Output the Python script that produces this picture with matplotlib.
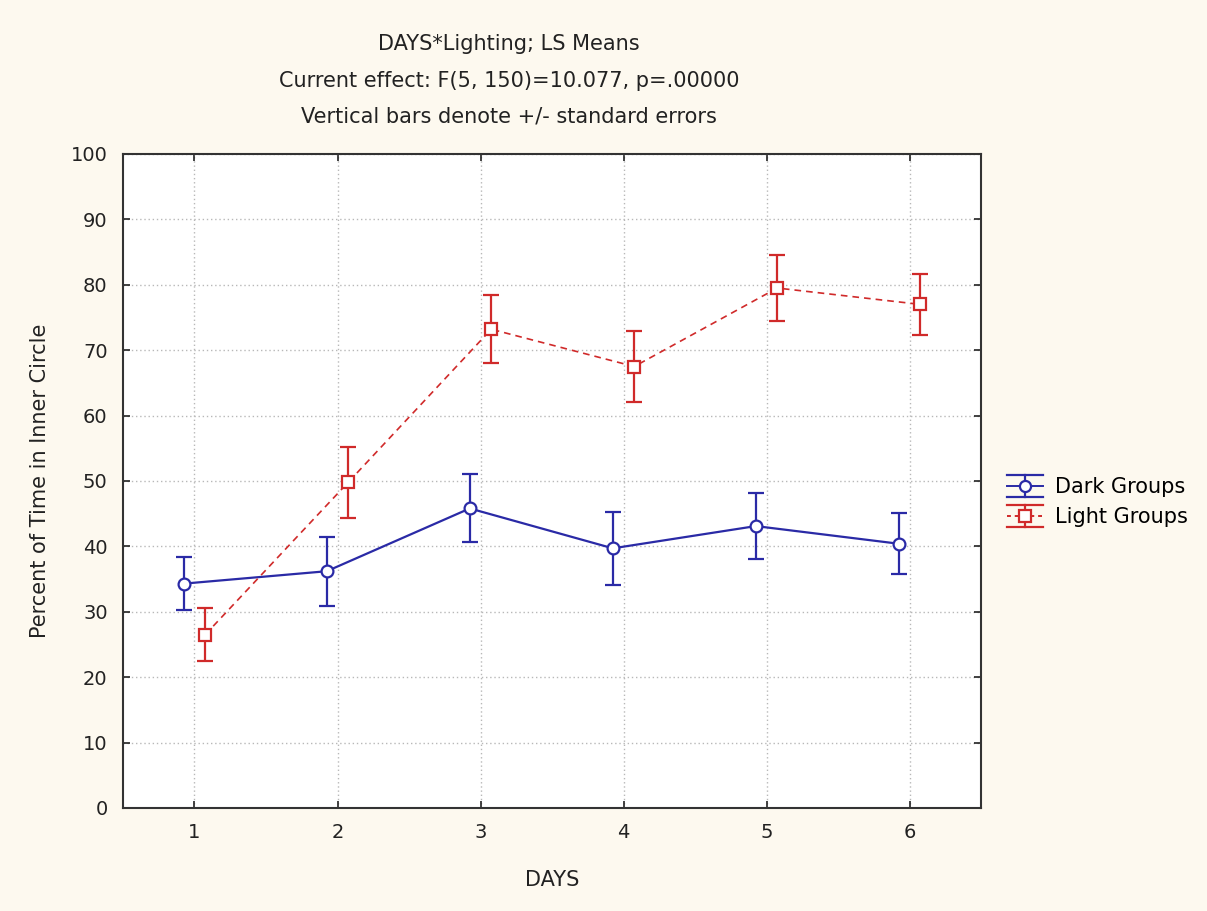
import matplotlib
matplotlib.use("Agg")
import matplotlib.pyplot as plt
from matplotlib.legend_handler import HandlerBase
from matplotlib.lines import Line2D
import numpy as np

plt.rcParams['font.family'] = ['DejaVu Sans']

days = [1, 2, 3, 4, 5, 6]
dark_means = [34.3, 36.2, 45.8, 39.7, 43.1, 40.4]
dark_se = [4.0, 5.3, 5.2, 5.6, 5.1, 4.7]
light_means = [26.5, 49.8, 73.2, 67.5, 79.5, 77.0]
light_se = [4.1, 5.4, 5.2, 5.5, 5.1, 4.7]

title_lines = ["DAYS*Lighting; LS Means",
               "Current effect: F(5, 150)=10.077, p=.00000",
               "Vertical bars denote +/- standard errors"]

bg = '#FDF9EF'
txt = '#222222'
blue = '#2A2AA6'
red = '#D02A2A'


class ErrorbarKey(HandlerBase):
    """Legend key: line through a marker, with wide caps above and below."""

    def __init__(self, color, ls, marker, **kw):
        super().__init__(**kw)
        self.color, self.ls, self.marker = color, ls, marker

    def create_artists(self, legend, orig_handle, xdescent, ydescent,
                       width, height, fontsize, trans):
        x0, x1 = -xdescent, -xdescent + width
        xm = (x0 + x1) / 2
        ym = -ydescent + height / 2
        half = height * 0.6
        arts = [
            Line2D([x0, x1], [ym, ym], color=self.color, ls=self.ls, lw=1.4),
            Line2D([xm, xm], [ym - half, ym + half], color=self.color, lw=1.6),
            Line2D([x0, x1], [ym + half, ym + half], color=self.color, lw=1.6),
            Line2D([x0, x1], [ym - half, ym - half], color=self.color, lw=1.6),
            Line2D([xm], [ym], marker=self.marker, ms=8, mfc='white',
                   mec=self.color, mew=1.6, ls='none'),
        ]
        for a in arts:
            a.set_transform(trans)
        return arts


fig = plt.figure(figsize=(12.07, 9.11), dpi=100, facecolor=bg)
ax = fig.add_axes([0.1019, 0.1131, 0.7109, 0.7179])
ax.set_facecolor('white')

x = np.array(days, dtype=float)
off = 0.075

h_dark = ax.errorbar(x - off, dark_means, yerr=dark_se, color=blue, lw=1.6,
                     elinewidth=1.6, capsize=6, capthick=1.6, marker='o',
                     ms=8.5, mfc='white', mec=blue, mew=1.6, zorder=4)
h_light = ax.errorbar(x + off, light_means, yerr=light_se, color=red, lw=1.2,
                      ls=(0, (4, 3)), elinewidth=1.6, capsize=6, capthick=1.6,
                      marker='s', ms=8.5, mfc='white', mec=red, mew=1.6,
                      zorder=4)

ax.set_xlim(0.5, 6.5)
ax.set_ylim(0, 100)
ax.set_xticks(days)
ax.set_yticks(np.arange(0, 101, 10))
ax.grid(True, color='#B8B8B8', ls=(0, (1, 2)), lw=1.0)
ax.set_axisbelow(True)
ax.tick_params(direction='in', length=5, width=1.2, top=True, right=True,
               labelsize=14, colors=txt, pad=11)
for s in ax.spines.values():
    s.set_linewidth(1.5)
    s.set_color('#333333')

ax.set_xlabel('DAYS', fontsize=15, color=txt, labelpad=20)
ax.set_ylabel('Percent of Time in Inner Circle', fontsize=15,
              color=txt, labelpad=15)

for t, yc in zip(title_lines, [42, 79, 114]):
    fig.text(0.4217, 1 - yc / 911, t, ha='center', va='center_baseline',
             fontsize=15, color=txt)

ax.legend([h_dark, h_light], ['Dark Groups', 'Light Groups'],
          handler_map={h_dark: ErrorbarKey(blue, '-', 'o'),
                       h_light: ErrorbarKey(red, (0, (2, 2)), 's')},
          loc='center left', bbox_to_anchor=(1.030, 0.468),
          frameon=False, fontsize=15, handlelength=1.75, handleheight=1.0,
          handletextpad=0.58, labelspacing=0.45, borderaxespad=0,
          borderpad=0)

fig.savefig('out.png', dpi=100, facecolor=bg)
